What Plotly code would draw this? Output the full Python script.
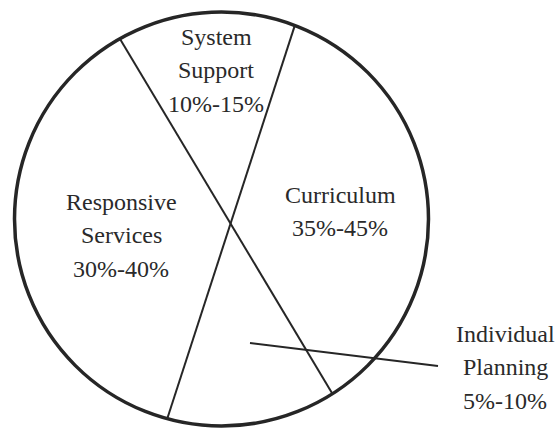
import math
import plotly.graph_objects as go

# ---- data ----
categories = ["System Support", "Curriculum", "Responsive Services", "Individual Planning"]
label_lines = [["System", "Support"], ["Curriculum"], ["Responsive", "Services"], ["Individual", "Planning"]]
range_low = [10, 35, 30, 5]
range_high = [15, 45, 40, 10]

# dividing chords: angles (degrees, counter-clockwise from 3 o'clock) where each chord meets the circle
chord_start_deg = [119.4, 69.25]
chord_end_deg = [-57.6, -105.2]

# ---- layout / geometry (pixel space) ----
W, H = 559, 432
CX, CY, R = 221.5, 219.0, 207.0
label_pos = {  # center x, baseline of first line
    "System Support": (216, 45),
    "Curriculum": (340, 203),
    "Responsive Services": (121, 210),
    "Individual Planning": (505, 342),
}
LINE_STEP = 33.5
FONT_SIZE = 24
LINE_COLOR = "#262626"
TEXT_COLOR = "#2a2a2a"
leader = dict(x0=250, y0=343, x1=438, y1=366)

fig = go.Figure()

# chords
for a0, a1 in zip(chord_start_deg, chord_end_deg):
    xs = [CX + R * math.cos(math.radians(a)) for a in (a0, a1)]
    ys = [CY - R * math.sin(math.radians(a)) for a in (a0, a1)]
    fig.add_trace(go.Scatter(x=xs, y=ys, mode="lines",
                             line=dict(color=LINE_COLOR, width=2),
                             hoverinfo="skip", showlegend=False))

shapes = [
    dict(type="circle", xref="x", yref="y", x0=CX - R, x1=CX + R, y0=CY - R, y1=CY + R,
         line=dict(color=LINE_COLOR, width=3.5)),
    dict(type="line", xref="x", yref="y", line=dict(color=LINE_COLOR, width=2), **leader),
]

annotations = []
for cat, lines, lo, hi in zip(categories, label_lines, range_low, range_high):
    cx, base = label_pos[cat]
    all_lines = lines + [f"{lo}%-{hi}%"]
    for i, t in enumerate(all_lines):
        b = base + i * LINE_STEP
        annotations.append(dict(x=cx, y=b - 0.3375 * FONT_SIZE, xref="x", yref="y",
                                text=t, showarrow=False, xanchor="center", yanchor="middle",
                                font=dict(family="Liberation Serif", size=FONT_SIZE, color=TEXT_COLOR)))

fig.update_layout(
    width=W, height=H,
    margin=dict(l=0, r=0, t=0, b=0),
    paper_bgcolor="white", plot_bgcolor="white",
    xaxis=dict(range=[0, W], visible=False, fixedrange=True),
    yaxis=dict(range=[H, 0], visible=False, fixedrange=True),
    shapes=shapes, annotations=annotations, showlegend=False,
)

fig.write_html("out.html", config={"displayModeBar": False},
               post_script="document.body.style.margin='0';document.body.style.overflow='hidden';")
